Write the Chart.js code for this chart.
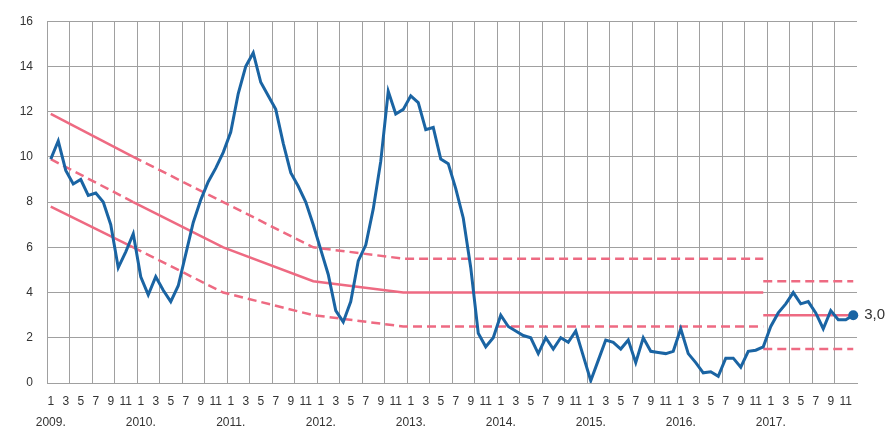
<!DOCTYPE html>
<html>
<head>
<meta charset="utf-8">
<script src="https://cdn.jsdelivr.net/npm/chart.js@4"></script>
<style>
  html, body { margin: 0; padding: 0; background: #ffffff; }
  #wrap { width: 892px; height: 430px; }
</style>
</head>
<body>
<div id="wrap"><canvas id="c" width="892" height="430"></canvas></div>
<script>
// ---- data ----
const years = [2009, 2010, 2011, 2012, 2013, 2014, 2015, 2016, 2017];
const months = [1, 2, 3, 4, 5, 6, 7, 8, 9, 10, 11, 12];

// year-on-year inflation, Jan 2009 .. Dec 2017
const inflation2009 = [9.9, 10.7, 9.4, 8.8, 9.0, 8.3, 8.4, 8.0, 7.0, 5.1, 5.8, 6.6];
const inflation2010 = [4.7, 3.9, 4.7, 4.1, 3.6, 4.3, 5.7, 7.1, 8.1, 8.9, 9.5, 10.2];
const inflation2011 = [11.1, 12.8, 14.0, 14.6, 13.3, 12.7, 12.1, 10.6, 9.3, 8.7, 8.0, 7.0];
const inflation2012 = [5.9, 4.8, 3.2, 2.7, 3.6, 5.4, 6.1, 7.7, 9.8, 12.9, 11.9, 12.1];
const inflation2013 = [12.7, 12.4, 11.2, 11.3, 9.9, 9.7, 8.6, 7.3, 5.1, 2.2, 1.6, 2.0];
const inflation2014 = [3.0, 2.5, 2.3, 2.1, 2.0, 1.3, 2.0, 1.5, 2.0, 1.8, 2.3, 1.2];
const inflation2015 = [0.1, 1.0, 1.9, 1.8, 1.5, 1.9, 0.9, 2.0, 1.4, 1.35, 1.3, 1.4];
const inflation2016 = [2.4, 1.3, 0.9, 0.45, 0.5, 0.3, 1.1, 1.1, 0.7, 1.4, 1.45, 1.6];
const inflation2017 = [2.5, 3.1, 3.5, 4.0, 3.5, 3.6, 3.1, 2.4, 3.2, 2.8, 2.8, 3.0];

// target corridor 2009-2016 (month index from Jan 2009 -> value)
const targetMonths = [0, 11, 23, 35, 47, 95];
const targetMid    = [9.9, 8.0, 6.0, 4.5, 4.0, 4.0];
const targetHigh   = [11.9, 10.0, 8.0, 6.0, 5.5, 5.5];
const targetLow    = [7.8, 6.0, 4.0, 3.0, 2.5, 2.5];

// target corridor 2017
const target2017Months = [95, 107];
const target2017Mid    = [3.0, 3.0];
const target2017High   = [4.5, 4.5];
const target2017Low    = [1.5, 1.5];

const yTicks = [0, 2, 4, 6, 8, 10, 12, 14, 16];

// ---- build ----
const inflation = [].concat(inflation2009, inflation2010, inflation2011, inflation2012,
  inflation2013, inflation2014, inflation2015, inflation2016, inflation2017);
const labels = [];
years.forEach(y => months.forEach(m => labels.push(y + '-' + m)));

const toPoints = (idx, vals) => idx.map((m, i) => ({ x: labels[m], y: vals[i] }));

const BLUE = '#1a64a3';
const PINK = '#ee6a82';
const GRID = '#a0a0a0';
const DASH = [9, 5];
const FONT = '"Liberation Sans", Arial, sans-serif';
const lastIdx = inflation.length - 1;

const pinkLine = (data, dashedFn) => ({
  data,
  borderColor: PINK,
  borderWidth: 2.5,
  pointRadius: 0,
  tension: 0,
  fill: false,
  segment: { borderDash: dashedFn }
});

const endLabel = {
  id: 'endLabel',
  afterDatasetsDraw(chart) {
    const meta = chart.getDatasetMeta(0);
    const pt = meta.data[lastIdx];
    const ctx = chart.ctx;
    ctx.save();
    ctx.font = '15px ' + FONT;
    ctx.fillStyle = '#333333';
    ctx.textAlign = 'left';
    ctx.textBaseline = 'middle';
    ctx.fillText(inflation[lastIdx].toFixed(1).replace('.', ','), pt.x + 11, pt.y);
    ctx.restore();
  }
};

new Chart(document.getElementById('c'), {
  type: 'line',
  data: {
    labels,
    datasets: [
      {
        data: inflation,
        borderColor: BLUE,
        backgroundColor: BLUE,
        borderWidth: 3,
        tension: 0,
        pointRadius: ctx => ctx.dataIndex === lastIdx ? 5 : 0,
        pointBorderWidth: 0,
        pointBackgroundColor: BLUE,
        fill: false
      },
      pinkLine(toPoints(targetMonths, targetMid), c => c.p0DataIndex === 0 ? DASH : undefined),
      pinkLine(toPoints(targetMonths, targetHigh), c => c.p0DataIndex === 0 ? undefined : DASH),
      pinkLine(toPoints(targetMonths, targetLow), c => c.p0DataIndex === 0 ? undefined : DASH),
      pinkLine(toPoints(target2017Months, target2017Mid), () => undefined),
      pinkLine(toPoints(target2017Months, target2017High), () => DASH),
      pinkLine(toPoints(target2017Months, target2017Low), () => DASH)
    ]
  },
  options: {
    responsive: false,
    animation: false,
    devicePixelRatio: 1,
    layout: { padding: { top: 18, right: 35, left: 0, bottom: 0 } },
    plugins: { legend: { display: false }, tooltip: { enabled: false } },
    scales: {
      x: {
        type: 'category',
        offset: true,
        afterFit: s => { s.height = 47; },
        grid: {
          offset: true,
          drawTicks: false,
          lineWidth: 1,
          color: ctx => (ctx.index % 3 === 0) ? GRID : 'rgba(0,0,0,0)'
        },
        border: { display: true, color: GRID, width: 1 },
        ticks: {
          autoSkip: false,
          maxRotation: 0,
          minRotation: 0,
          padding: 8,
          color: '#333333',
          font: { family: FONT, size: 12, lineHeight: 1.75 },
          callback: (v, i) => {
            const m = i % 12;
            if (m % 2 !== 0) return '';
            if (m === 0) return [String(months[m]), years[Math.floor(i / 12)] + '.'];
            return String(months[m]);
          }
        }
      },
      y: {
        min: 0,
        max: 16,
        afterFit: s => { s.width = 47; },
        afterBuildTicks: s => { s.ticks = yTicks.map(v => ({ value: v })); },
        grid: { drawTicks: false, color: GRID, lineWidth: 1 },
        border: { display: true, color: GRID, width: 1 },
        ticks: {
          padding: 14,
          color: '#333333',
          font: { family: FONT, size: 12 }
        }
      }
    }
  },
  plugins: [endLabel]
});
</script>
</body>
</html>
